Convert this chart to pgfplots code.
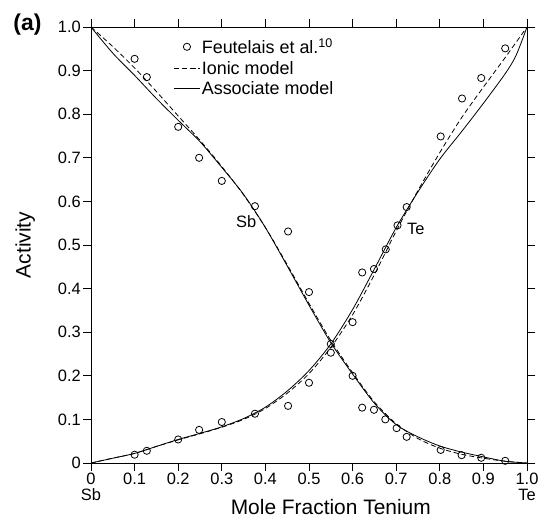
\documentclass[border=0pt]{standalone}
\usepackage{fontspec}
\setmainfont{Liberation Sans}
\usepackage{pgfplots}
\pgfplotsset{compat=1.18}

% Measured activities (Feutelais et al.)
\pgfplotstableread{
x     y
0.100 0.927
0.128 0.885
0.200 0.771
0.248 0.700
0.300 0.647
0.376 0.589
0.452 0.531
0.500 0.392
0.550 0.253
0.600 0.200
0.622 0.127
0.649 0.122
0.675 0.100
0.701 0.080
0.724 0.060
0.802 0.030
0.850 0.018
0.895 0.012
0.950 0.005
}\expSb
\pgfplotstableread{
x     y
0.100 0.019
0.128 0.028
0.200 0.054
0.248 0.076
0.300 0.094
0.376 0.113
0.452 0.131
0.500 0.184
0.550 0.273
0.600 0.323
0.622 0.437
0.649 0.445
0.676 0.490
0.703 0.545
0.724 0.587
0.802 0.749
0.851 0.836
0.895 0.883
0.950 0.951
}\expTe

% Ionic model
\pgfplotstableread{
x    y
0.00 1.000
0.05 0.955
0.10 0.906
0.15 0.852
0.20 0.796
0.25 0.740
0.30 0.680
0.35 0.615
0.40 0.540
0.45 0.455
0.50 0.366
0.55 0.281
0.60 0.207
0.65 0.140
0.70 0.090
0.75 0.056
0.80 0.034
0.85 0.020
0.90 0.011
0.95 0.004
1.00 0.000
}\ionSb
\pgfplotstableread{
x    y
0.00 0.000
0.05 0.011
0.10 0.022
0.15 0.038
0.20 0.053
0.25 0.067
0.30 0.082
0.35 0.100
0.40 0.125
0.45 0.160
0.50 0.205
0.55 0.265
0.60 0.340
0.65 0.432
0.70 0.532
0.75 0.625
0.80 0.712
0.85 0.792
0.90 0.862
0.95 0.930
1.00 1.000
}\ionTe

% Associate model
\pgfplotstableread{
x    y
0.00 1.000
0.05 0.940
0.10 0.889
0.15 0.836
0.20 0.786
0.25 0.737
0.30 0.678
0.35 0.616
0.40 0.540
0.45 0.452
0.50 0.362
0.55 0.276
0.60 0.204
0.65 0.137
0.70 0.088
0.75 0.060
0.80 0.039
0.85 0.025
0.90 0.014
0.95 0.004
1.00 0.000
}\assSb
\pgfplotstableread{
x     y
0.00  0.000
0.05  0.011
0.10  0.022
0.15  0.038
0.20  0.054
0.25  0.068
0.30  0.083
0.35  0.102
0.40  0.128
0.45  0.165
0.50  0.212
0.55  0.273
0.60  0.352
0.65  0.445
0.70  0.540
0.75  0.622
0.80  0.697
0.85  0.760
0.90  0.825
0.95  0.893
0.975 0.935
1.00  1.000
}\assTe

\begin{document}
\begin{tikzpicture}
\begin{axis}[
  at={(0,0)}, anchor=south west,
  width=436bp, height=436bp, scale only axis,
  xmin=0, xmax=1, ymin=0, ymax=1,
  axis line style={line width=0.8bp},
  tick style={line width=0.8bp, black},
  tick align=outside, major tick length=8bp,
  xtick pos=both, ytick pos=both,
  xticklabel pos=lower, yticklabel pos=left,
  xtick={0,0.1,0.2,0.3,0.4,0.5,0.6,0.7,0.8,0.9,1},
  ytick={0,0.1,0.2,0.3,0.4,0.5,0.6,0.7,0.8,0.9,1},
  xticklabels={{0\\[-1bp]Sb},0.1,0.2,0.3,0.4,0.5,0.6,0.7,0.8,0.9,{1.0\\[-1bp]Te}},
  yticklabels={0,0.1,0.2,0.3,0.4,0.5,0.6,0.7,0.8,0.9,1.0},
  xticklabel style={align=center, font=\fontsize{16.5}{17}\selectfont, inner sep=2bp},
  yticklabel style={font=\fontsize{16.5}{17}\selectfont, inner sep=2bp},
  xlabel={Mole Fraction Tenium},
  ylabel={Activity},
  every axis x label/.style={at={(axis description cs:0.55,-0.100)}, anchor=center,
    font=\fontsize{21}{22}\selectfont},
  every axis y label/.style={at={(axis description cs:-0.151,0.5)}, anchor=center, rotate=90,
    font=\fontsize{21}{22}\selectfont},
  legend cell align=left,
  legend style={draw=none, fill=none, at={(axis description cs:0.182,0.982)}, anchor=north west,
    font=\fontsize{18}{20}\selectfont, row sep=3bp,
    nodes={inner sep=1.5bp}},
  legend image code/.code={\draw[mark repeat=2, mark phase=2, #1]
    plot coordinates {(0bp,0bp) (13bp,0bp) (26bp,0bp)};},
]
\addplot[only marks, mark=o, mark size=3.6bp, mark options={line width=0.8bp, black}]
  table {\expSb};
\addlegendentry{Feutelais et al.\textsuperscript{10}}
\addplot[only marks, mark=o, mark size=3.6bp, mark options={line width=0.8bp, black}, forget plot]
  table {\expTe};

\addplot[black, line width=0.8bp, dash pattern=on 5bp off 3bp, smooth] table {\ionSb};
\addlegendentry{Ionic model}
\addplot[black, line width=0.8bp, dash pattern=on 5bp off 3bp, smooth, forget plot] table {\ionTe};

\addplot[black, line width=0.8bp, smooth] table {\assSb};
\addlegendentry{Associate model}
\addplot[black, line width=0.8bp, smooth, forget plot] table {\assTe};

\node[font=\fontsize{16.5}{17}\selectfont] at (axis cs:0.356,0.553) {Sb};
\node[font=\fontsize{16.5}{17}\selectfont] at (axis cs:0.745,0.537) {Te};
\end{axis}
% panel tag
\node[font=\bfseries\fontsize{23}{24}\selectfont] at (-63.5bp,438.5bp) {(a)};
\pgfresetboundingbox
\path[use as bounding box] (-91bp,-56bp) rectangle (450bp,463bp);
\end{tikzpicture}
\end{document}
